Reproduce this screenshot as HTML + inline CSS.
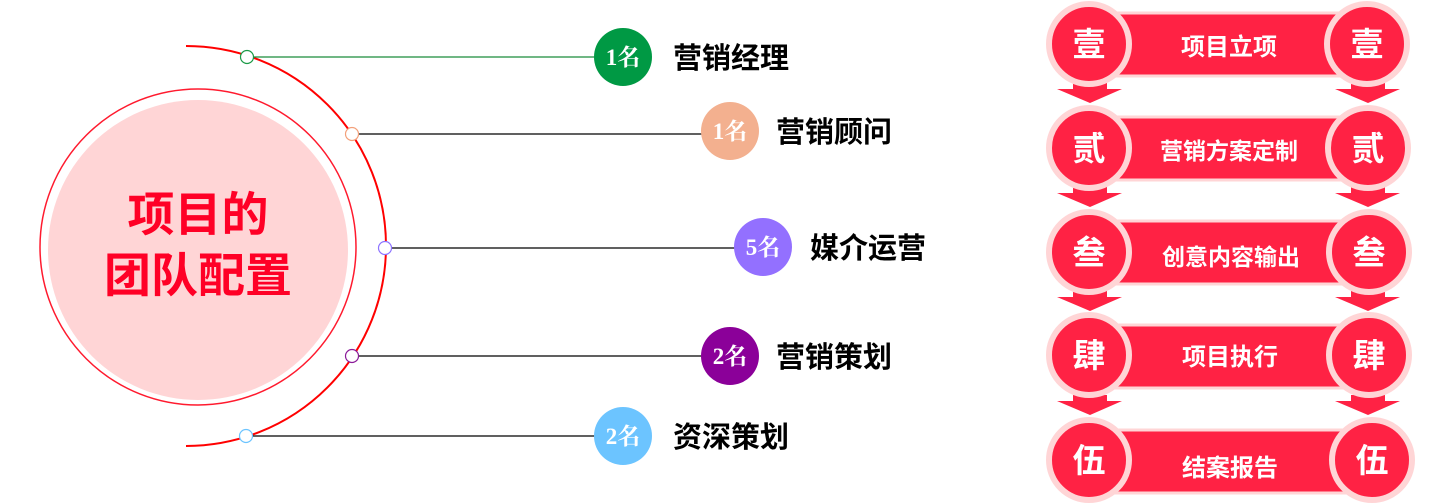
<!DOCTYPE html>
<html><head><meta charset="utf-8"><style>
html,body{margin:0;padding:0;background:#fff;}
svg{display:block;font-family:"Liberation Sans","Noto Sans CJK SC",sans-serif;}
</style></head><body>
<svg width="1450" height="504" viewBox="0 0 1450 504" xmlns="http://www.w3.org/2000/svg">
<circle cx="198" cy="247" r="158" fill="none" stroke="#ff1a2e" stroke-width="1.5"/>
<circle cx="198" cy="250" r="150" fill="#ffd5d6"/>
<text x="198" y="231" text-anchor="middle" font-size="47" font-weight="bold" fill="#ff0026">项目的</text>
<text x="198" y="292" text-anchor="middle" font-size="47" font-weight="bold" fill="#ff0026">团队配置</text>
<path d="M186 46 A200 200 0 0 1 186 446" fill="none" stroke="#ff0000" stroke-width="2"/>
<g stroke-width="1.2">
<line x1="253" y1="57" x2="600" y2="57" stroke="#1a8c3a"/>
<line x1="358" y1="134" x2="705" y2="134" stroke="#000"/>
<line x1="392" y1="248" x2="740" y2="248" stroke="#000"/>
<line x1="358" y1="356" x2="705" y2="356" stroke="#000"/>
<line x1="253" y1="436" x2="600" y2="436" stroke="#000"/>
<circle cx="247" cy="57" r="6.5" fill="#fff" stroke="#1a9a46"/>
<circle cx="352" cy="134" r="6.5" fill="#fff" stroke="#f3a07a"/>
<circle cx="385" cy="248" r="6.5" fill="#fff" stroke="#8d73ff"/>
<circle cx="352" cy="356" r="6.5" fill="#fff" stroke="#8b1a99"/>
<circle cx="246" cy="436" r="6.5" fill="#fff" stroke="#6cc4ff"/>
</g>
<g font-weight="bold" font-size="23" fill="#fff" text-anchor="middle" font-family="Liberation Serif,'Noto Serif CJK SC',serif">
<circle cx="623" cy="57" r="29" fill="#009944"/><text x="623" y="65">1名</text>
<circle cx="730" cy="131" r="29" fill="#f3b08f"/><text x="730" y="139">1名</text>
<circle cx="763" cy="247" r="29" fill="#9370ff"/><text x="763" y="255">5名</text>
<circle cx="730" cy="356" r="29" fill="#8b0099"/><text x="730" y="364">2名</text>
<circle cx="623" cy="436" r="29" fill="#6cc4ff"/><text x="623" y="444">2名</text>
</g>
<g font-weight="bold" font-size="29" fill="#000">
<text x="673" y="68">营销经理</text>
<text x="776" y="142">营销顾问</text>
<text x="810" y="258">媒介运营</text>
<text x="776" y="367">营销策划</text>
<text x="673" y="447">资深策划</text>
</g>
<g font-weight="bold" fill="#fff" text-anchor="middle">
<g fill="#ff2244">
<path d="M1073 83H1107V89H1122L1090 103L1057 89H1073Z"/>
<path d="M1351 83H1385V89H1400L1368 103L1335 89H1351Z"/>
<path d="M1073 187H1107V193H1122L1090 207L1057 193H1073Z"/>
<path d="M1351 187H1385V193H1400L1368 207L1335 193H1351Z"/>
<path d="M1073 291H1107V297H1122L1090 311L1057 297H1073Z"/>
<path d="M1351 291H1385V297H1400L1368 311L1335 297H1351Z"/>
<path d="M1073 395H1107V401H1122L1090 415L1057 401H1073Z"/>
<path d="M1351 395H1385V401H1400L1368 415L1335 401H1351Z"/>
</g>
<g>
<rect x="1110" y="13" width="240" height="63" fill="#ff2244" stroke="#ffd5d6" stroke-width="3"/>
<circle cx="1089" cy="44" r="40" fill="#ff2244" stroke="#ffd5d6" stroke-width="6"/>
<circle cx="1367" cy="44" r="40" fill="#ff2244" stroke="#ffd5d6" stroke-width="6"/>
<text x="1089" y="56" font-size="33">壹</text><text x="1367" y="56" font-size="33">壹</text>
<text x="1229" y="55" font-size="24">项目立项</text>
</g>
<g>
<rect x="1110" y="117" width="240" height="63" fill="#ff2244" stroke="#ffd5d6" stroke-width="3"/>
<circle cx="1089" cy="148" r="40" fill="#ff2244" stroke="#ffd5d6" stroke-width="6"/>
<circle cx="1368" cy="148" r="40" fill="#ff2244" stroke="#ffd5d6" stroke-width="6"/>
<text x="1089" y="160" font-size="33">贰</text><text x="1368" y="160" font-size="33">贰</text>
<text x="1229" y="159" font-size="23">营销方案定制</text>
</g>
<g>
<rect x="1110" y="221" width="240" height="63" fill="#ff2244" stroke="#ffd5d6" stroke-width="3"/>
<circle cx="1089" cy="252" r="40" fill="#ff2244" stroke="#ffd5d6" stroke-width="6"/>
<circle cx="1369" cy="252" r="40" fill="#ff2244" stroke="#ffd5d6" stroke-width="6"/>
<text x="1089" y="264" font-size="33">叁</text><text x="1369" y="264" font-size="33">叁</text>
<text x="1231" y="265" font-size="23">创意内容输出</text>
</g>
<g>
<rect x="1110" y="325" width="240" height="63" fill="#ff2244" stroke="#ffd5d6" stroke-width="3"/>
<circle cx="1089" cy="355" r="40" fill="#ff2244" stroke="#ffd5d6" stroke-width="6"/>
<circle cx="1369" cy="355" r="40" fill="#ff2244" stroke="#ffd5d6" stroke-width="6"/>
<text x="1089" y="367" font-size="33">肆</text><text x="1369" y="367" font-size="33">肆</text>
<text x="1230" y="365" font-size="24">项目执行</text>
</g>
<g>
<rect x="1110" y="430" width="245" height="63" fill="#ff2244" stroke="#ffd5d6" stroke-width="3"/>
<circle cx="1089" cy="460" r="40" fill="#ff2244" stroke="#ffd5d6" stroke-width="6"/>
<circle cx="1372" cy="460" r="40" fill="#ff2244" stroke="#ffd5d6" stroke-width="6"/>
<text x="1089" y="472" font-size="33">伍</text><text x="1372" y="472" font-size="33">伍</text>
<text x="1230" y="476" font-size="24">结案报告</text>
</g>
</g>
</svg>
</body></html>
